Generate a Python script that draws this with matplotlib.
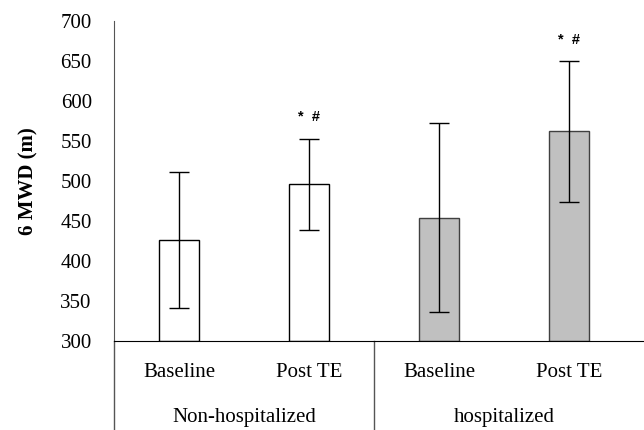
import matplotlib
matplotlib.use("Agg")
import matplotlib.pyplot as plt
import matplotlib.transforms as mtransforms

# data
groups = ["Non-hospitalized", "hospitalized"]
phases = ["Baseline", "Post TE", "Baseline", "Post TE"]
means = [426, 496, 454, 562]
errors = [85, 57, 118, 88]
marks = ["", "*  #", "", "*  #"]
mark_y = [None, 580, None, 676]

face = ["white", "white", "#c0c0c0", "#c0c0c0"]
edge = ["black", "black", "#404040", "#404040"]

plt.rcParams["font.family"] = ["Liberation Serif", "DejaVu Serif"]

fig = plt.figure(figsize=(6.44, 4.30), dpi=100)
ax = fig.add_axes([114 / 644, 1 - 341 / 430, 1 - 114 / 644, 320 / 430])

x = list(range(len(means)))
ax.bar(x, [m - 300 for m in means], bottom=300, width=0.31,
       color=face, edgecolor=edge, linewidth=1.0, zorder=2)
ax.errorbar(x, means, yerr=errors, fmt="none", ecolor="black",
            elinewidth=1.0, capsize=7, capthick=1.0, zorder=3)

for xi, t, yv in zip(x, marks, mark_y):
    if t:
        ax.text(xi, yv, t, ha="center", va="center", fontsize=10.5,
                fontweight="bold", family=["Liberation Sans", "DejaVu Sans"])

ax.set_ylim(300, 700)
ax.set_xlim(-0.5, -0.5 + 530 / 130)
ax.set_yticks(range(300, 701, 50))
ax.tick_params(axis="y", length=0, pad=16, labelsize=15)
ax.set_xticks([])
ax.spines["top"].set_visible(False)
ax.spines["right"].set_visible(False)
ax.spines["left"].set_color("#555555")
ax.spines["bottom"].set_color("black")
ax.set_ylabel("6 MWD (m)", fontsize=15, fontweight="bold", labelpad=16)

# category and group labels below the axis
tr = mtransforms.blended_transform_factory(ax.transData, ax.transAxes)
for xi, p in zip(x, phases):
    ax.text(xi, -0.097, p, transform=tr, ha="center", va="center", fontsize=15)
for gi, g in enumerate(groups):
    ax.text(gi * 2 + 0.5, -0.24, g, transform=tr, ha="center", va="center", fontsize=15)

for xv in [-0.5, 1.5]:
    ax.plot([xv, xv], [0, -0.3], transform=tr, color="#555555",
            linewidth=1.0, clip_on=False)

fig.savefig("out.png", dpi=100)
